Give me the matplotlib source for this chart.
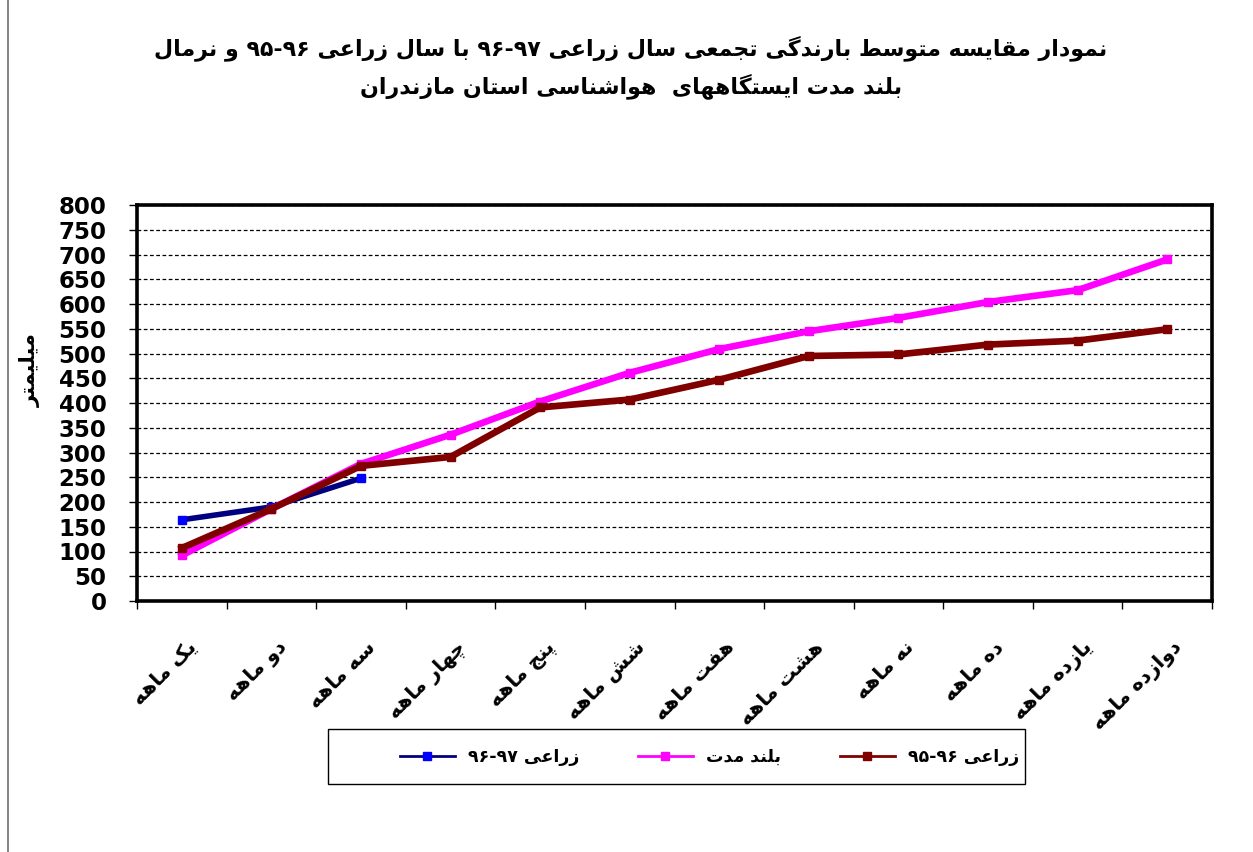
import matplotlib
matplotlib.use('Agg')
import matplotlib.pyplot as plt
import matplotlib.transforms as mtrans
from matplotlib.lines import Line2D

# ---------------- data ----------------
categories = ['یک ماهه', 'دو ماهه', 'سه ماهه', 'چهار ماهه', 'پنج ماهه', 'شش ماهه',
              'هفت ماهه', 'هشت ماهه', 'نه ماهه', 'ده ماهه', 'یازده ماهه', 'دوازده ماهه']
crop_97 = [164, 190, 248]
long_term = [92, 186, 277, 336, 403, 461, 509, 545, 572, 604, 628, 690]
crop_96 = [107, 186, 273, 291, 391, 407, 447, 495, 498, 518, 526, 549]
series_names = ['زراعی ۹۶-۹۷', 'بلند مدت', 'زراعی ۹۵-۹۶']
title_lines = ['نمودار مقایسه متوسط بارندگی تجمعی سال زراعی ۹۶-۹۷ با سال زراعی ۹۵-۹۶ و نرمال',
               'بلند مدت ایستگاههای  هواشناسی استان مازندران']
y_label = 'میلیمتر'
y_ticks = list(range(0, 801, 50))

# ---------------- minimal Persian shaping (matplotlib has no complex text layout) ----------------
FORMS = {
    'ا': ('\uFE8D', '\uFE8E', None, None), 'آ': ('\uFE81', '\uFE82', None, None),
    'ب': ('\uFE8F', '\uFE90', '\uFE91', '\uFE92'), 'پ': ('\uFB56', '\uFB57', '\uFB58', '\uFB59'),
    'ت': ('\uFE95', '\uFE96', '\uFE97', '\uFE98'), 'ث': ('\uFE99', '\uFE9A', '\uFE9B', '\uFE9C'),
    'ج': ('\uFE9D', '\uFE9E', '\uFE9F', '\uFEA0'), 'چ': ('\uFB7A', '\uFB7B', '\uFB7C', '\uFB7D'),
    'ح': ('\uFEA1', '\uFEA2', '\uFEA3', '\uFEA4'), 'خ': ('\uFEA5', '\uFEA6', '\uFEA7', '\uFEA8'),
    'د': ('\uFEA9', '\uFEAA', None, None), 'ذ': ('\uFEAB', '\uFEAC', None, None),
    'ر': ('\uFEAD', '\uFEAE', None, None), 'ز': ('\uFEAF', '\uFEB0', None, None),
    'ژ': ('\uFB8A', '\uFB8B', None, None),
    'س': ('\uFEB1', '\uFEB2', '\uFEB3', '\uFEB4'), 'ش': ('\uFEB5', '\uFEB6', '\uFEB7', '\uFEB8'),
    'ص': ('\uFEB9', '\uFEBA', '\uFEBB', '\uFEBC'), 'ض': ('\uFEBD', '\uFEBE', '\uFEBF', '\uFEC0'),
    'ط': ('\uFEC1', '\uFEC2', '\uFEC3', '\uFEC4'), 'ظ': ('\uFEC5', '\uFEC6', '\uFEC7', '\uFEC8'),
    'ع': ('\uFEC9', '\uFECA', '\uFECB', '\uFECC'), 'غ': ('\uFECD', '\uFECE', '\uFECF', '\uFED0'),
    'ف': ('\uFED1', '\uFED2', '\uFED3', '\uFED4'), 'ق': ('\uFED5', '\uFED6', '\uFED7', '\uFED8'),
    'ک': ('\uFB8E', '\uFB8F', '\uFB90', '\uFB91'), 'گ': ('\uFB92', '\uFB93', '\uFB94', '\uFB95'),
    'ل': ('\uFEDD', '\uFEDE', '\uFEDF', '\uFEE0'), 'م': ('\uFEE1', '\uFEE2', '\uFEE3', '\uFEE4'),
    'ن': ('\uFEE5', '\uFEE6', '\uFEE7', '\uFEE8'), 'ه': ('\uFEE9', '\uFEEA', '\uFEEB', '\uFEEC'),
    'و': ('\uFEED', '\uFEEE', None, None), 'ی': ('\uFBFC', '\uFBFD', '\uFBFE', '\uFBFF'),
}
LTR_CHARS = set('۰۱۲۳۴۵۶۷۸۹0123456789-.')


def shape(s):
    out = []
    for i, c in enumerate(s):
        if c not in FORMS:
            out.append(c)
            continue
        prev = s[i - 1] if i > 0 else None
        nxt = s[i + 1] if i + 1 < len(s) else None
        jp = prev in FORMS and FORMS[prev][2] is not None
        jn = nxt in FORMS and FORMS[c][2] is not None
        iso, fin, ini, med = FORMS[c]
        if jp and jn:
            out.append(med)
        elif jp:
            out.append(fin)
        elif jn:
            out.append(ini)
        else:
            out.append(iso)
    # split into runs, reverse for right-to-left display, keep number runs LTR
    runs = []
    for c in out:
        ltr = c in LTR_CHARS
        if runs and runs[-1][0] == ltr:
            runs[-1][1].append(c)
        else:
            runs.append([ltr, [c]])
    vis = []
    for ltr, chars in reversed(runs):
        vis.append(''.join(chars) if ltr else ''.join(reversed(chars)))
    return ''.join(vis)


# ---------------- figure ----------------
plt.rcParams['font.family'] = ['DejaVu Sans']
W, H = 1253, 852
fig = plt.figure(figsize=(W / 100, H / 100), dpi=100)
fig.patch.set_facecolor('white')

L, R, T, B = 137, 1212, 205, 601
ax = fig.add_axes([L / W, 1 - B / H, (R - L) / W, (B - T) / H])

n = len(categories)
xs = [i + 0.5 for i in range(n)]

ax.plot(xs[:len(crop_97)], crop_97, color='#000080', lw=4, marker='s', ms=6,
        mfc='#0000FF', mec='#0000FF', zorder=3, label=shape(series_names[0]))
ax.plot(xs, long_term, color='#FF00FF', lw=4.8, marker='s', ms=6,
        mfc='#FF00FF', mec='#FF00FF', zorder=4, label=shape(series_names[1]))
ax.plot(xs, crop_96, color='#800000', lw=4.8, marker='s', ms=6,
        mfc='#800000', mec='#800000', zorder=5, label=shape(series_names[2]))

ax.set_xlim(0, n)
ax.set_ylim(0, 800)
ax.set_yticks(y_ticks)
ax.set_yticklabels([str(v) for v in y_ticks], fontsize=16.5, fontweight='bold')
ax.tick_params(axis='y', direction='out', length=6, width=1, pad=16)

ax.set_xticks(range(n + 1))
ax.set_xticklabels([])
ax.tick_params(axis='x', which='major', direction='out', length=6, width=1)
ax.set_xticks(xs, minor=True)
ax.set_xticklabels([shape(c) for c in categories], minor=True, rotation=45,
                   ha='right', va='top', rotation_mode='anchor',
                   fontsize=14.5, fontweight='bold')
ax.tick_params(axis='x', which='minor', length=0, pad=26)
offset = mtrans.ScaledTranslation(5 / 100, 0, fig.dpi_scale_trans)
for lab in ax.get_xticklabels(minor=True):
    lab.set_transform(lab.get_transform() + offset)

ax.yaxis.grid(True, color='black', linestyle=(0, (3, 2)), lw=0.9)
ax.set_axisbelow(True)
for sp in ax.spines.values():
    sp.set_linewidth(2.6)
    sp.set_color('black')

# y label
fig.text(30 / W, 1 - 370 / H, shape(y_label), rotation=90, ha='center', va='center',
         fontsize=15, fontweight='bold')

# title
fig.text(631 / W, 1 - 48 / H, shape(title_lines[0]), ha='center', va='center',
         fontsize=15.9, fontweight='bold')
fig.text(631 / W, 1 - 86 / H, shape(title_lines[1]), ha='center', va='center',
         fontsize=15.9, fontweight='bold')

# legend box
lx0, ly0, lx1, ly1 = 328, 729, 1025, 784
fig.patches.append(plt.Rectangle((lx0 / W, 1 - ly1 / H), (lx1 - lx0) / W, (ly1 - ly0) / H,
                                 transform=fig.transFigure, fill=False, edgecolor='black',
                                 lw=1.0))
leg = fig.legend(loc='center left', bbox_to_anchor=(400 / W, 1 - 757 / H), ncol=3,
                 frameon=False, prop={'size': 12.5, 'weight': 'bold'},
                 handlelength=3.15, handletextpad=0.75, columnspacing=3.4,
                 borderaxespad=0, borderpad=0, markerscale=0.9)
for h in leg.legend_handles:
    h.set_linewidth(2.0)

# outer frame line on left
fig.add_artist(Line2D([8 / W, 8 / W], [0, 1], transform=fig.transFigure,
                      color='#707070', lw=1.2))

fig.savefig('out.png', dpi=100, facecolor='white')
